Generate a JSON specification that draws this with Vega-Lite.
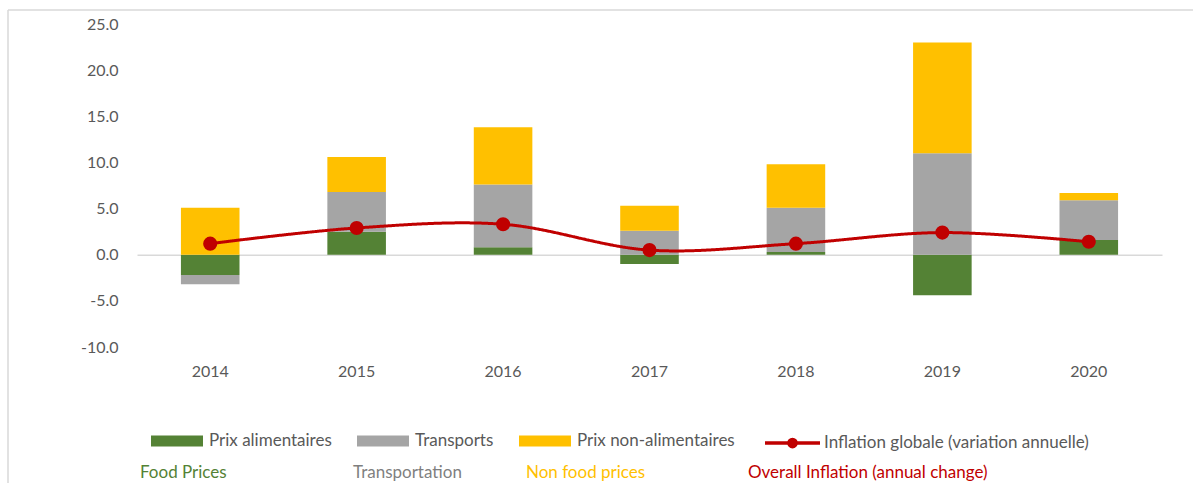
{
  "$schema": "https://vega.github.io/schema/vega-lite/v6.json",
  "autosize": {"type": "none"},
  "padding": {"left": 8, "top": 10, "right": 0, "bottom": 0},
  "width": 1185,
  "height": 473,
  "background": "white",
  "config": {
    "view": {"stroke": "#D9D9D9", "strokeWidth": 1.5, "strokeDash": [1185, 1658, 473, 0]},
    "font": "Lato",
    "axis": {"labelFont": "Lato", "labelFontSize": 16, "labelColor": "#595959"},
    "legend": {"labelFont": "Lato", "labelFontSize": 17, "labelColor": "#595959", "padding": 0, "labelLimit": 500}
  },
  "datasets": {
    "bars": [
      {"year": "2014", "series": "Prix alimentaires", "value": -2.2},
      {"year": "2014", "series": "Transports", "value": -1.0},
      {"year": "2014", "series": "Prix non-alimentaires", "value": 5.1},
      {"year": "2015", "series": "Prix alimentaires", "value": 2.5},
      {"year": "2015", "series": "Transports", "value": 4.3},
      {"year": "2015", "series": "Prix non-alimentaires", "value": 3.8},
      {"year": "2016", "series": "Prix alimentaires", "value": 0.8},
      {"year": "2016", "series": "Transports", "value": 6.8},
      {"year": "2016", "series": "Prix non-alimentaires", "value": 6.2},
      {"year": "2017", "series": "Prix alimentaires", "value": -1.0},
      {"year": "2017", "series": "Transports", "value": 2.6},
      {"year": "2017", "series": "Prix non-alimentaires", "value": 2.7},
      {"year": "2018", "series": "Prix alimentaires", "value": 0.3},
      {"year": "2018", "series": "Transports", "value": 4.8},
      {"year": "2018", "series": "Prix non-alimentaires", "value": 4.7},
      {"year": "2019", "series": "Prix alimentaires", "value": -4.4},
      {"year": "2019", "series": "Transports", "value": 11.0},
      {"year": "2019", "series": "Prix non-alimentaires", "value": 12.0},
      {"year": "2020", "series": "Prix alimentaires", "value": 1.6},
      {"year": "2020", "series": "Transports", "value": 4.3},
      {"year": "2020", "series": "Prix non-alimentaires", "value": 0.8}
    ],
    "infl": [
      {"year": "2014", "series": "Inflation globale (variation annuelle)", "inflation": 1.2},
      {"year": "2015", "series": "Inflation globale (variation annuelle)", "inflation": 2.9},
      {"year": "2016", "series": "Inflation globale (variation annuelle)", "inflation": 3.3},
      {"year": "2017", "series": "Inflation globale (variation annuelle)", "inflation": 0.5},
      {"year": "2018", "series": "Inflation globale (variation annuelle)", "inflation": 1.2},
      {"year": "2019", "series": "Inflation globale (variation annuelle)", "inflation": 2.4},
      {"year": "2020", "series": "Inflation globale (variation annuelle)", "inflation": 1.4}
    ]
  },
  "encoding": {
    "x": {
      "field": "year",
      "type": "nominal",
      "title": null,
      "scale": {"range": [129, 1154], "paddingInner": 0.6, "paddingOuter": 0.3},
      "axis": {
        "orient": "bottom",
        "offset": -228.3,
        "labelPadding": 109,
        "ticks": false,
        "domainColor": "#D9D9D9",
        "domainWidth": 1.5,
        "labelAngle": 0,
        "title": null,
        "zindex": 0
      }
    }
  },
  "layer": [
    {
      "data": {"name": "bars"},
      "transform": [
        {"calculate": "indexof(['Prix alimentaires', 'Transports', 'Prix non-alimentaires'], datum.series)", "as": "k"}
      ],
      "mark": {"type": "bar"},
      "encoding": {
        "y": {
          "field": "value",
          "type": "quantitative",
          "stack": "zero",
          "title": null,
          "scale": {"domain": [-10, 25], "range": [337, 14], "nice": false, "zero": false},
          "axis": {
            "orient": "left",
            "offset": -129,
            "values": [-10, -5, 0, 5, 10, 15, 20, 25],
            "labelExpr": "(datum.value < 0 ? '-' : '') + format(abs(datum.value), '.1f')",
            "domain": false,
            "ticks": false,
            "grid": false,
            "labelPadding": 19,
            "title": null
          }
        },
        "order": {"field": "k", "type": "quantitative"},
        "color": {
          "field": "series",
          "type": "nominal",
          "scale": {
            "domain": ["Prix alimentaires", "Transports", "Prix non-alimentaires"],
            "range": ["#548235", "#A5A5A5", "#FFC000"]
          },
          "legend": {
            "orient": "none",
            "legendX": 143,
            "legendY": 405,
            "direction": "horizontal",
            "title": null,
            "symbolType": "M-1,-0.21H1V0.21H-1Z",
            "symbolSize": 2704,
            "symbolStrokeWidth": 0,
            "symbolOpacity": 1,
            "labelOffset": 6,
            "columnPadding": 25
          }
        },
        "opacity": {
          "datum": "Food Prices",
          "scale": {"domain": ["Food Prices"], "range": [1, 1]},
          "legend": {
            "orient": "none", "legendX": 115, "legendY": 454, "title": null,
            "symbolSize": 0, "symbolStrokeWidth": 0, "symbolOpacity": 0, "labelOffset": 0,
            "labelColor": "#548235"
          }
        }
      }
    },
    {
      "data": {"name": "infl"},
      "mark": {"type": "line", "strokeWidth": 3, "interpolate": "catmull-rom"},
      "encoding": {
        "y": {"field": "inflation", "type": "quantitative", "title": null},
        "stroke": {
          "field": "series",
          "type": "nominal",
          "scale": {"domain": ["Inflation globale (variation annuelle)"], "range": ["#C00000"]},
          "legend": {
            "orient": "none",
            "legendX": 755,
            "legendY": 403.5,
            "title": null,
            "symbolType": "M-1,0H1M-0.13,0A0.13,0.13 0 1,1 0.13,0A0.13,0.13 0 1,1 -0.13,0M-0.05,0A0.05,0.05 0 1,1 0.05,0A0.05,0.05 0 1,1 -0.05,0",
            "symbolSize": 3025,
            "symbolStrokeWidth": 3.6,
            "labelOffset": 2
          }
        },
        "strokeDash": {
          "datum": "Non food prices",
          "scale": {"domain": ["Non food prices"], "range": [[1, 0]]},
          "legend": {
            "orient": "none", "legendX": 501, "legendY": 454, "title": null,
            "symbolSize": 0, "symbolStrokeWidth": 0, "symbolOpacity": 0, "labelOffset": 0,
            "labelColor": "#FFC000"
          }
        }
      }
    },
    {
      "data": {"name": "infl"},
      "mark": {"type": "point", "filled": true, "color": "#C00000", "opacity": 1},
      "encoding": {
        "y": {"field": "inflation", "type": "quantitative", "title": null},
        "size": {
          "datum": "Overall Inflation (annual change)",
          "scale": {"domain": ["Overall Inflation (annual change)"], "range": [200, 200]},
          "legend": {
            "orient": "none", "legendX": 723, "legendY": 454, "title": null,
            "symbolSize": 0, "symbolStrokeWidth": 0, "symbolOpacity": 0, "labelOffset": 0,
            "labelColor": "#C00000"
          }
        },
        "shape": {
          "datum": "Transportation",
          "scale": {"domain": ["Transportation"], "range": ["circle"]},
          "legend": {
            "orient": "none", "legendX": 328, "legendY": 454, "title": null,
            "symbolSize": 0, "symbolStrokeWidth": 0, "symbolOpacity": 0, "labelOffset": 0,
            "labelColor": "#7F7F7F"
          }
        }
      }
    }
  ]
}
